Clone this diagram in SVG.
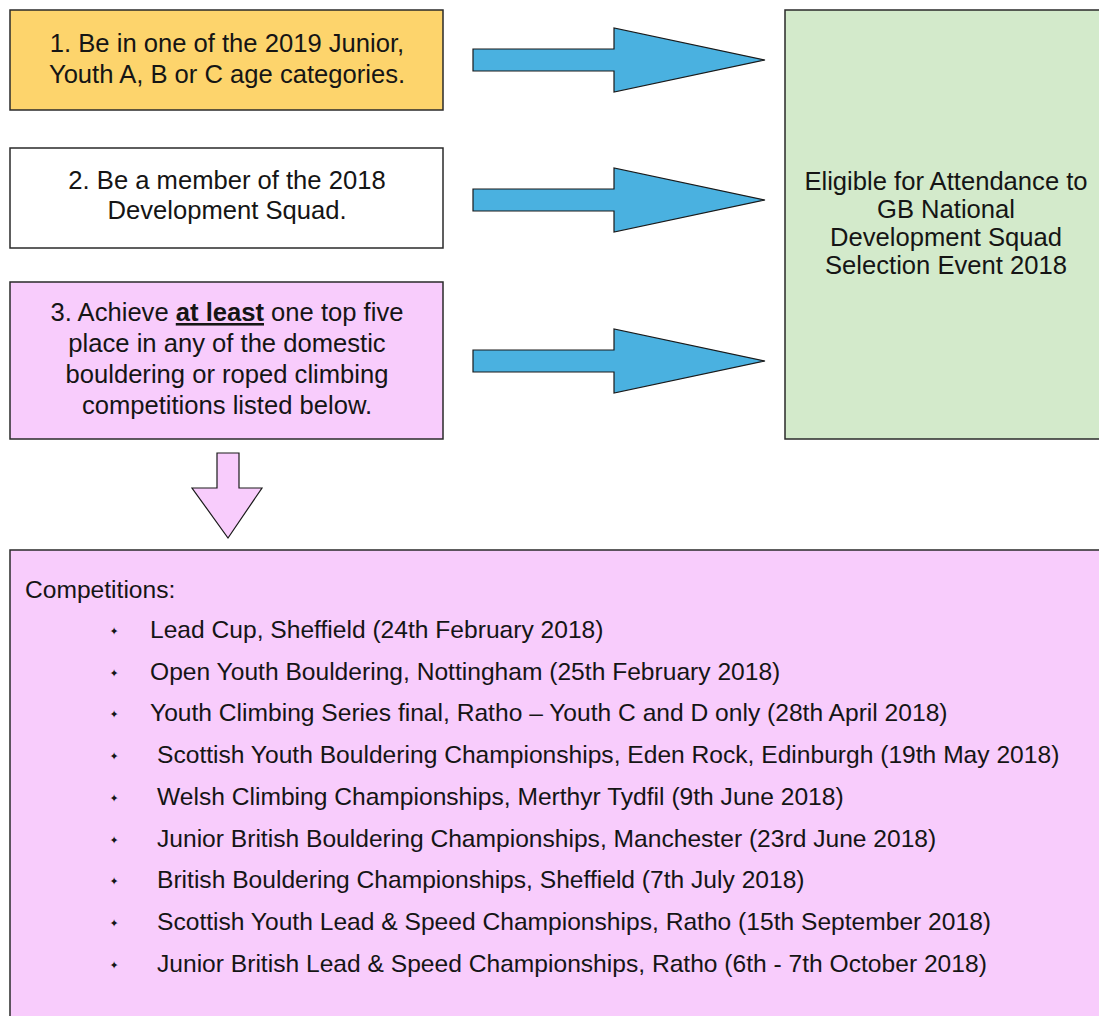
<svg xmlns="http://www.w3.org/2000/svg" width="1099" height="1016" viewBox="0 0 1099 1016">
<style>
  .box { stroke: #2a2a2a; stroke-width: 1.5; }
  .t { font-family: "Liberation Sans", Arial, sans-serif; font-size: 25.6px; fill: #151515; text-anchor: middle; }
  .li { font-family: "Liberation Sans", Arial, sans-serif; font-size: 24.6px; fill: #151515; }
  .bul { font-family: "DejaVu Sans", sans-serif; font-size: 11px; fill: #151515; text-anchor: middle; }
  .arr { fill: #4ab1e0; stroke: #1a1a1a; stroke-width: 1.2; }
  .darr { fill: #f8ccfc; stroke: #1a1a1a; stroke-width: 1.2; }
  .b { font-weight: bold; text-decoration: underline; }
</style>
<rect width="1099" height="1016" fill="#ffffff"/>
<g id="node-age">
  <rect class="box" x="10" y="10" width="433" height="100" fill="#fdd46c"/>
  <text class="t" x="227" y="52">1. Be in one of the 2019 Junior,</text>
  <text class="t" x="227" y="83">Youth A, B or C age categories.</text>
</g>
<g id="node-member">
  <rect class="box" x="10" y="148" width="433" height="100" fill="#ffffff"/>
  <text class="t" x="227" y="189">2. Be a member of the 2018</text>
  <text class="t" x="227" y="219">Development Squad.</text>
</g>
<g id="node-achieve">
  <rect class="box" x="10" y="282" width="433" height="157" fill="#f8ccfc"/>
  <text class="t" x="227" y="321">3. Achieve <tspan class="b">at least</tspan> one top five</text>
  <text class="t" x="227" y="352">place in any of the domestic</text>
  <text class="t" x="227" y="383">bouldering or roped climbing</text>
  <text class="t" x="227" y="414">competitions listed below.</text>
</g>
<g id="node-eligible">
  <rect class="box" x="785" y="10" width="330" height="429" fill="#d3eacb"/>
  <text class="t" x="946" y="190">Eligible for Attendance to</text>
  <text class="t" x="946" y="218">GB National</text>
  <text class="t" x="946" y="246">Development Squad</text>
  <text class="t" x="946" y="274">Selection Event 2018</text>
</g>
<g id="node-competitions">
  <rect class="box" x="10" y="550" width="1110" height="480" fill="#f8ccfc"/>
  <text class="li" x="25" y="598">Competitions:</text>
  <text class="bul" x="114" y="635">✦</text>
  <text class="li" x="150" y="638">Lead Cup, Sheffield (24th February 2018)</text>
  <text class="bul" x="114" y="677">✦</text>
  <text class="li" x="150" y="680">Open Youth Bouldering, Nottingham (25th February 2018)</text>
  <text class="bul" x="114" y="718">✦</text>
  <text class="li" x="150" y="721">Youth Climbing Series final, Ratho – Youth C and D only (28th April 2018)</text>
  <text class="bul" x="114" y="760">✦</text>
  <text class="li" x="157" y="763">Scottish Youth Bouldering Championships, Eden Rock, Edinburgh (19th May 2018)</text>
  <text class="bul" x="114" y="802">✦</text>
  <text class="li" x="157" y="805">Welsh Climbing Championships, Merthyr Tydfil (9th June 2018)</text>
  <text class="bul" x="114" y="844">✦</text>
  <text class="li" x="157" y="847">Junior British Bouldering Championships, Manchester (23rd June 2018)</text>
  <text class="bul" x="114" y="885">✦</text>
  <text class="li" x="157" y="888">British Bouldering Championships, Sheffield (7th July 2018)</text>
  <text class="bul" x="114" y="927">✦</text>
  <text class="li" x="157" y="930">Scottish Youth Lead &amp; Speed Championships, Ratho (15th September 2018)</text>
  <text class="bul" x="114" y="969">✦</text>
  <text class="li" x="157" y="972">Junior British Lead &amp; Speed Championships, Ratho (6th - 7th October 2018)</text>
</g>
<g id="connectors">
  <polygon class="arr" points="473,49 614,49 614,28 765,60 614,92 614,71 473,71"/>
  <polygon class="arr" points="473,189 614,189 614,168 765,200 614,232 614,211 473,211"/>
  <polygon class="arr" points="473,350 614,350 614,329 765,361 614,393 614,372 473,372"/>
  <polygon class="darr" points="217,453 239,453 239,488 262,488 228,538 192,488 217,488"/>
</g>
</svg>
